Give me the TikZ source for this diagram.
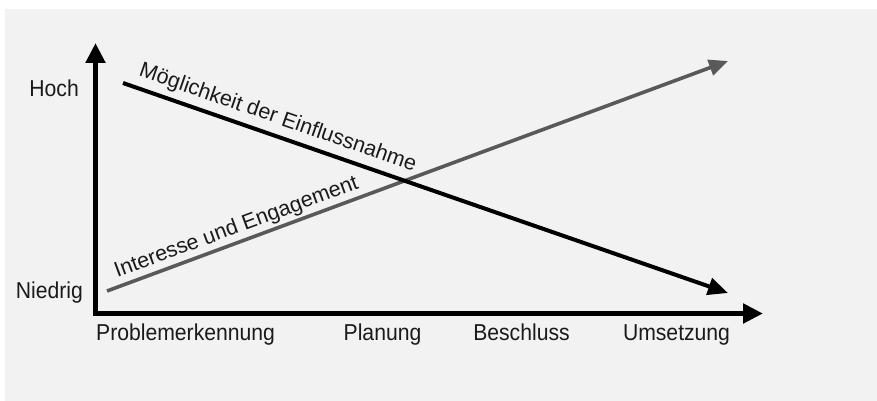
\documentclass[tikz,border=0pt]{standalone}
\usepackage{fontspec}
\setmainfont{Liberation Sans}
\usetikzlibrary{arrows.meta}
\definecolor{bggray}{HTML}{F2F2F2}
\definecolor{linegray}{HTML}{595959}
\definecolor{txt}{HTML}{1A1A1A}
\begin{document}
\begin{tikzpicture}[x=1pt,y=-1pt,
  axis/.style={line width=5pt, line join=miter, -{Triangle[length=20pt,width=19pt]}},
  blackline/.style={line width=4pt, -{Triangle[length=20pt,width=17pt]}},
  grayline/.style={draw=linegray, line width=3.6pt, -{Triangle[length=19pt,width=16pt]}, color=linegray},
  lbl/.style={inner sep=0pt, text=txt, font=\fontsize{23}{27}\selectfont, xscale=0.92},
  slbl/.style={inner sep=0pt, text=txt, font=\fontsize{21.5}{26}\selectfont}]
\useasboundingbox (0,0) rectangle (877,401);
\fill[white] (0,0) rectangle (877,401);
\fill[bggray] (5,9) rectangle (877,401);

\coordinate (O) at (95.5,313.5);
\coordinate (ytip) at (95.5,43);
\coordinate (xtip) at (763,313.5);
\coordinate (g1) at (107,291);
\coordinate (g2) at (728,61);
\coordinate (b1) at (123,83);
\coordinate (b2) at (728,293);

\draw[axis] (O) -- (ytip);
\draw[axis] (O) -- (xtip);
\draw[line width=5pt, line join=miter] (95.5,290) -- (O) -- (120,313.5);

\draw[grayline] (g1) -- (g2);
\draw[blackline] (b1) -- (b2);

\node[lbl, anchor=base east] (hoch) at (79,97) {Hoch};
\node[lbl, anchor=base east] (niedrig) at (83,298) {Niedrig};
\node[lbl, anchor=base west] (p1) at (96,340) {Problemerkennung};
\node[lbl, anchor=base] (p2) at (382.5,340) {Planung};
\node[lbl, anchor=base] (p3) at (521.5,340) {Beschluss};
\node[lbl, anchor=base] (p4) at (676.5,340) {Umsetzung};

\node[slbl, anchor=base, rotate=-19.1] (moeg) at (276,123.5) {Möglichkeit der Einflussnahme};
\node[slbl, anchor=base, rotate=20.3] (int) at (238.5,233) {Interesse und Engagement};
\end{tikzpicture}
\end{document}
